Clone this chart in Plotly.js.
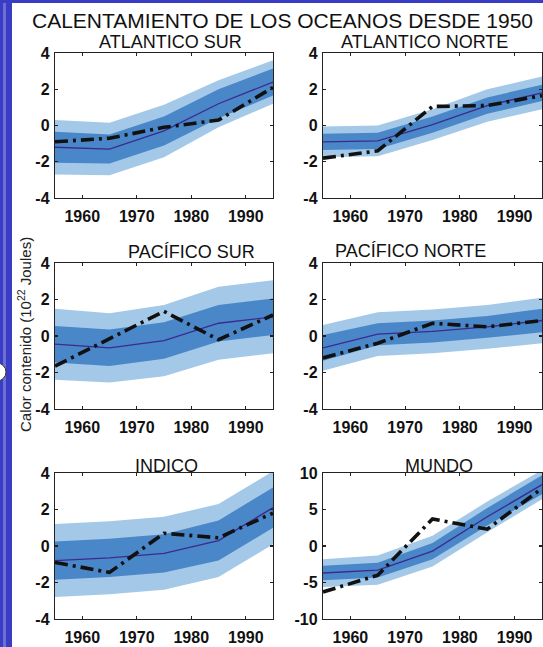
<!DOCTYPE html>
<html>
<head>
<meta charset="utf-8">
<script src="https://cdn.plot.ly/plotly-3.0.1.min.js"></script>
<style>html,body{margin:0;padding:0;background:#fff;}#chart{width:543px;height:647px;}</style>
</head>
<body>
<div id="chart"></div>
<script>
// ---------- DATA ----------
const years = [1955, 1965, 1975, 1985, 1995];
const panelTitles = ['ATLANTICO SUR', 'ATLANTICO NORTE', 'PACÍFICO SUR', 'PACÍFICO NORTE', 'INDICO', 'MUNDO'];
const mainTitle = 'CALENTAMIENTO DE LOS OCEANOS DESDE 1950';
const yTitle = 'Calor contenido (10<sup>22</sup> Joules)';

// model mean, half-width of inner (dark) band, half-width of outer (light) band, observations
const asMean  = [-1.2, -1.3, -0.3, 1.2, 2.4];
const asInner = [0.85, 0.8, 0.8, 0.8, 0.75];
const asOuter = [1.5, 1.45, 1.45, 1.3, 1.2];
const asObs   = [-0.9, -0.7, -0.1, 0.3, 2.1];

const anMean  = [-0.9, -0.85, 0.05, 1.1, 1.8];
const anInner = [0.45, 0.45, 0.45, 0.45, 0.45];
const anOuter = [0.85, 0.85, 0.85, 0.9, 0.9];
const anObs   = [-1.8, -1.4, 1.05, 1.1, 1.65];

const psMean  = [-0.45, -0.65, -0.25, 0.7, 1.05];
const psInner = [1.0, 1.0, 1.0, 1.0, 1.0];
const psOuter = [1.95, 1.9, 1.95, 2.0, 2.0];
const psObs   = [-1.65, -0.15, 1.35, -0.2, 1.15];

const pnMean  = [-0.65, 0.1, 0.25, 0.5, 0.85];
const pnInner = [0.7, 0.6, 0.6, 0.6, 0.65];
const pnOuter = [1.25, 1.2, 1.2, 1.2, 1.25];
const pnObs   = [-1.2, -0.4, 0.7, 0.5, 0.85];

const inMean  = [-0.8, -0.65, -0.4, 0.3, 2.1];
const inInner = [1.05, 1.05, 1.05, 1.1, 1.1];
const inOuter = [2.0, 2.0, 2.0, 2.0, 2.0];
const inObs   = [-0.9, -1.45, 0.7, 0.45, 1.8];

const muMean  = [-3.7, -3.3, -0.7, 4.0, 8.4];
const muInner = [1.0, 1.0, 1.1, 1.2, 1.3];
const muOuter = [1.9, 2.0, 2.1, 2.1, 2.0];
const muObs   = [-6.3, -4.0, 3.7, 2.3, 7.9];

const xTickVals = [1960, 1970, 1980, 1990];
const xTickText = ['1960', '1970', '1980', '1990'];
const yTickVals4 = [-4, -2, 0, 2, 4];
const yTickText4 = ['-4', '-2', '0', '2', '4'];
const yTickVals10 = [-10, -5, 0, 5, 10];
const yTickText10 = ['-10', '-5', '0', '5', '10'];

// ---------- BUILD ----------
const W = 543, H = 647;
const panels = [
  {mean: asMean, inner: asInner, outer: asOuter, obs: asObs, big: false},
  {mean: anMean, inner: anInner, outer: anOuter, obs: anObs, big: false},
  {mean: psMean, inner: psInner, outer: psOuter, obs: psObs, big: false},
  {mean: pnMean, inner: pnInner, outer: pnOuter, obs: pnObs, big: false},
  {mean: inMean, inner: inInner, outer: inOuter, obs: inObs, big: false},
  {mean: muMean, inner: muInner, outer: muOuter, obs: muObs, big: true}
];

// pixel boxes of the axes
const colX = [[55, 273], [323, 542]];
const rowY = [[53, 198], [263, 409], [473, 619]];
const titlePos = [[171, 42], [424, 42], [191, 252], [410, 251], [166, 466], [439, 466]];

const LIGHT = '#a3c8e8', DARK = '#4a87c8', MEANC = '#3c2a8e';
const bold = arr => arr.map(s => '<b>' + s + '</b>');

const traces = [];
const layout = {
  width: W, height: H,
  margin: {l: 0, r: 0, t: 0, b: 0},
  paper_bgcolor: '#ffffff', plot_bgcolor: '#ffffff',
  showlegend: false,
  annotations: [], shapes: []
};

function band(mean, hw, sign) {
  return mean.map((m, i) => m + sign * hw[i]);
}

panels.forEach((p, k) => {
  const n = k + 1;
  const xa = 'x' + (n === 1 ? '' : n), ya = 'y' + (n === 1 ? '' : n);
  const col = k % 2, row = Math.floor(k / 2);
  const xr = years.concat(years.slice().reverse());
  const outerUp = band(p.mean, p.outer, 1), outerLo = band(p.mean, p.outer, -1);
  const innerUp = band(p.mean, p.inner, 1), innerLo = band(p.mean, p.inner, -1);
  traces.push({x: xr, y: outerUp.concat(outerLo.slice().reverse()), xaxis: xa, yaxis: ya,
    type: 'scatter', mode: 'lines', fill: 'toself', fillcolor: LIGHT, line: {width: 0}, hoverinfo: 'skip'});
  traces.push({x: xr, y: innerUp.concat(innerLo.slice().reverse()), xaxis: xa, yaxis: ya,
    type: 'scatter', mode: 'lines', fill: 'toself', fillcolor: DARK, line: {width: 0}, hoverinfo: 'skip'});
  traces.push({x: years, y: p.mean, xaxis: xa, yaxis: ya, type: 'scatter', mode: 'lines',
    line: {color: MEANC, width: 1.3}});
  traces.push({x: years, y: p.obs, xaxis: xa, yaxis: ya, type: 'scatter', mode: 'lines',
    line: {color: '#111111', width: 3.6, dash: '13px,5px,3px,5px'}});

  const tickFont = {family: 'Liberation Sans, Arial, sans-serif', size: 16, color: '#111'};
  const common = {
    showline: true, mirror: 'ticks', linecolor: '#222', linewidth: 1.2,
    ticks: 'inside', ticklen: 3, tickcolor: '#222', tickwidth: 1.2,
    showgrid: false, zeroline: false, tickfont: tickFont, fixedrange: true
  };
  layout['xaxis' + (n === 1 ? '' : n)] = Object.assign({}, common, {
    domain: [colX[col][0] / W, colX[col][1] / W], anchor: ya,
    range: [1955, 1995], tickmode: 'array', tickvals: xTickVals, ticktext: bold(xTickText),
    ticklabelstandoff: 4
  });
  layout['yaxis' + (n === 1 ? '' : n)] = Object.assign({}, common, {
    domain: [1 - rowY[row][1] / H, 1 - rowY[row][0] / H], anchor: xa,
    range: p.big ? [-10, 10] : [-4, 4], tickmode: 'array',
    tickvals: p.big ? yTickVals10 : yTickVals4, ticktext: bold(p.big ? yTickText10 : yTickText4),
    ticklabelstandoff: 1
  });
  layout.annotations.push({
    text: panelTitles[k], xref: 'paper', yref: 'paper',
    x: titlePos[k][0] / W, y: 1 - titlePos[k][1] / H, xanchor: 'center', yanchor: 'middle',
    showarrow: false, font: {family: 'Liberation Sans, Arial, sans-serif', size: 18, color: '#111'}
  });
});

layout.annotations.push({
  text: mainTitle, xref: 'paper', yref: 'paper', x: 282 / W, y: 1 - 20 / H,
  xanchor: 'center', yanchor: 'middle', showarrow: false,
  font: {family: 'Liberation Sans, Arial, sans-serif', size: 21, color: '#111'}
});
layout.annotations.push({
  text: yTitle, xref: 'paper', yref: 'paper', x: 24 / W, y: 1 - 335 / H,
  xanchor: 'center', yanchor: 'middle', textangle: -90, showarrow: false,
  font: {family: 'Liberation Sans, Arial, sans-serif', size: 15, color: '#222'}
});

// slide decoration: blue strip on the left and top
layout.shapes.push({type: 'rect', xref: 'paper', yref: 'paper', x0: 0, x1: 12 / W, y0: 0, y1: 1,
  fillcolor: '#3a3cc4', line: {width: 0}, layer: 'below'});
layout.shapes.push({type: 'rect', xref: 'paper', yref: 'paper', x0: 3 / W, x1: 6 / W, y0: 0, y1: 1,
  fillcolor: 'rgba(170,175,235,0.45)', line: {width: 0}, layer: 'below'});
layout.shapes.push({type: 'rect', xref: 'paper', yref: 'paper', x0: 0, x1: 1, y0: 1 - 3 / H, y1: 1,
  fillcolor: '#3a3cc4', line: {width: 0}, layer: 'below'});
layout.shapes.push({type: 'circle', xref: 'paper', yref: 'paper', x0: -12 / W, x1: 6 / W,
  y0: 1 - 381 / H, y1: 1 - 363 / H, fillcolor: '#ffffff', line: {color: '#333', width: 1}, layer: 'above'});

Plotly.newPlot('chart', traces, layout, {displayModeBar: false, staticPlot: true});
</script>
</body>
</html>
